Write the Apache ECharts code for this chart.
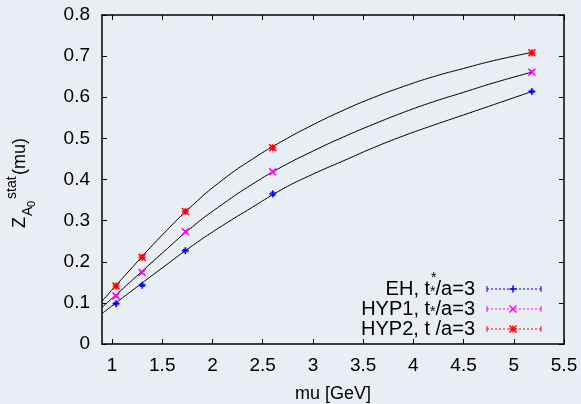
<!DOCTYPE html>
<html lang="en">
<head>
    <meta charset="UTF-8">
    <title>Z_A0 stat</title>
    <style>
        * { margin: 0; padding: 0; }
        body { background: #e9edf4; }
        #chart { width: 581px; height: 404px; }
    </style>
</head>
<body>
    <div id="chart"></div>
    <script src="https://cdn.jsdelivr.net/npm/echarts@6.0.0/dist/echarts.min.js"></script>
    <script type="text/javascript">
        // data
        var xTicks = [1, 1.5, 2, 2.5, 3, 3.5, 4, 4.5, 5, 5.5];
        var ptX = [1.04, 1.30, 1.73, 2.60, 5.18];
        var ehY = [0.098, 0.143, 0.227, 0.365, 0.614];
        var hyp1Y = [0.117, 0.174, 0.273, 0.419, 0.661];
        var hyp2Y = [0.141, 0.211, 0.322, 0.477, 0.708];
        var ehErr = [0.003, 0.003, 0.003, 0.004, 0.003];
        var hyp1Err = [0.003, 0.003, 0.003, 0.003, 0.003];
        var hyp2Err = [0.004, 0.004, 0.004, 0.004, 0.004];

        // fit curves (black)
        var fitX = [0.9, 1.2, 1.5, 1.8, 2.1, 2.4, 2.7, 3.0, 3.3, 3.6, 3.9, 4.2, 4.5, 4.8, 5.18];
        var fitEH = [0.074, 0.130, 0.185, 0.239, 0.288, 0.333, 0.377, 0.413, 0.445, 0.477, 0.506, 0.532, 0.557, 0.582, 0.614];
        var fitHYP1 = [0.089, 0.155, 0.221, 0.285, 0.340, 0.389, 0.432, 0.469, 0.503, 0.534, 0.563, 0.589, 0.612, 0.635, 0.661];
        var fitHYP2 = [0.104, 0.186, 0.265, 0.337, 0.399, 0.450, 0.494, 0.533, 0.568, 0.599, 0.626, 0.650, 0.670, 0.689, 0.709];

        var FONT = 'Liberation Sans, Arial, sans-serif';

        function pairs(xs, ys, es) {
            return xs.map(function (x, i) { return es ? [x, ys[i], es[i]] : [x, ys[i]]; });
        }

        // marker shapes like gnuplot pointtypes: 1 = plus, 2 = cross, 3 = star
        function markerShapes(kind, cx, cy, r, color) {
            var segs = [];
            if (kind === 'plus' || kind === 'star') {
                segs.push([cx - r, cy, cx + r, cy], [cx, cy - r, cx, cy + r]);
            }
            if (kind === 'cross' || kind === 'star') {
                segs.push([cx - r, cy - r, cx + r, cy + r], [cx - r, cy + r, cx + r, cy - r]);
            }
            return segs.map(function (s) {
                return {
                    type: 'line',
                    shape: { x1: s[0], y1: s[1], x2: s[2], y2: s[3] },
                    style: { stroke: color, lineWidth: 1.5 }
                };
            });
        }

        function pointSeries(name, data, kind, color) {
            return {
                name: name,
                type: 'custom',
                data: data,
                z: 5,
                renderItem: function (params, api) {
                    var x = api.value(0), y = api.value(1), e = api.value(2);
                    var p = api.coord([x, y]);
                    var lo = api.coord([x, y - e]);
                    var hi = api.coord([x, y + e]);
                    var kids = markerShapes(kind, p[0], p[1], 3.5, color);
                    var bar = [
                        [p[0], lo[1], p[0], hi[1]],
                        [p[0] - 2.5, lo[1], p[0] + 2.5, lo[1]],
                        [p[0] - 2.5, hi[1], p[0] + 2.5, hi[1]]
                    ];
                    bar.forEach(function (s) {
                        kids.push({
                            type: 'line',
                            shape: { x1: s[0], y1: s[1], x2: s[2], y2: s[3] },
                            style: { stroke: color, lineWidth: 1 }
                        });
                    });
                    return { type: 'group', children: kids };
                }
            };
        }

        function fitSeries(data) {
            return {
                type: 'line',
                data: data,
                showSymbol: false,
                smooth: 0.5,
                lineStyle: { color: '#000', width: 1 },
                silent: true,
                z: 3
            };
        }

        // legend rows, drawn like gnuplot's key with error bar samples
        function keyRow(y, rich, kind, color) {
            var kids = [
                {
                    type: 'text',
                    x: 475, y: y,
                    style: {
                        text: rich,
                        align: 'right', verticalAlign: 'middle',
                        font: '20px ' + FONT, fill: '#000',
                        rich: {
                            s: { fontSize: 14, fontFamily: FONT, verticalAlign: 'bottom', lineHeight: 10, fill: '#000' }
                        }
                    }
                },
                { type: 'line', shape: { x1: 487, y1: y, x2: 541, y2: y }, style: { stroke: color, lineWidth: 1, lineDash: [2, 2] } },
                { type: 'line', shape: { x1: 487, y1: y - 3, x2: 487, y2: y + 3 }, style: { stroke: color, lineWidth: 1 } },
                { type: 'line', shape: { x1: 541, y1: y - 3, x2: 541, y2: y + 3 }, style: { stroke: color, lineWidth: 1 } }
            ];
            return kids.concat(markerShapes(kind, 513, y, 3.5, color));
        }

        var chart = echarts.init(document.getElementById('chart'));

        var axisCommon = {
            axisLine: { show: true, onZero: false, lineStyle: { color: '#000', width: 1.5 } },
            axisTick: { show: true, inside: true, length: 5, lineStyle: { color: '#000', width: 1 } },
            splitLine: { show: false }
        };

        var option = {
            backgroundColor: '#e9edf4',
            animation: false,
            grid: { left: 102, right: 17, top: 15, bottom: 60, outerBoundsMode: 'none' },
            xAxis: [
                Object.assign({}, axisCommon, {
                    type: 'value', min: 0.9, max: 5.5, position: 'bottom',
                    axisTick: Object.assign({}, axisCommon.axisTick, { customValues: xTicks }),
                    axisLabel: {
                        customValues: xTicks, margin: 12, color: '#000', fontSize: 19, fontFamily: FONT,
                        formatter: function (v) { return String(v); }
                    },
                    name: 'mu [GeV]', nameLocation: 'middle', nameGap: 41,
                    nameTextStyle: { color: '#000', fontSize: 18, fontFamily: FONT }
                }),
                Object.assign({}, axisCommon, {
                    type: 'value', min: 0.9, max: 5.5, position: 'top',
                    axisTick: Object.assign({}, axisCommon.axisTick, { customValues: xTicks }),
                    axisLabel: { show: false }
                })
            ],
            yAxis: [
                Object.assign({}, axisCommon, {
                    type: 'value', min: 0, max: 0.8, interval: 0.1, position: 'left',
                    axisLabel: {
                        margin: 12, color: '#000', fontSize: 19, fontFamily: FONT,
                        formatter: function (v) { return v === 0 ? '0' : v.toFixed(1); }
                    }
                }),
                Object.assign({}, axisCommon, {
                    type: 'value', min: 0, max: 0.8, interval: 0.1, position: 'right',
                    axisLabel: { show: false }
                })
            ],
            series: [
                fitSeries(pairs(fitX, fitEH)),
                fitSeries(pairs(fitX, fitHYP1)),
                fitSeries(pairs(fitX, fitHYP2)),
                pointSeries('EH', pairs(ptX, ehY, ehErr), 'plus', '#0000ff'),
                pointSeries('HYP1', pairs(ptX, hyp1Y, hyp1Err), 'cross', '#ff00ff'),
                pointSeries('HYP2', pairs(ptX, hyp2Y, hyp2Err), 'star', '#ff0000')
            ],
            graphic: [
                // y axis title, rotated
                {
                    type: 'group', x: 20, y: 228, rotation: Math.PI / 2,
                    children: [
                        { type: 'text', x: 0, y: 0, style: { text: 'Z', font: '18px ' + FONT, fill: '#000', verticalAlign: 'middle' } },
                        { type: 'text', x: 12, y: 8, style: { text: 'A', font: '14px ' + FONT, fill: '#000', verticalAlign: 'middle' } },
                        { type: 'text', x: 21, y: 12, style: { text: '0', font: '11px ' + FONT, fill: '#000', verticalAlign: 'middle' } },
                        { type: 'text', x: 29, y: -8, style: { text: 'stat', font: '14px ' + FONT, fill: '#000', verticalAlign: 'middle' } },
                        { type: 'text', x: 53, y: 0, style: { text: '(mu)', font: '18px ' + FONT, fill: '#000', verticalAlign: 'middle' } }
                    ]
                },
                { type: 'group', children: keyRow(289, 'EH, t{s|*}/a=3', 'plus', '#0000ff') },
                { type: 'text', x: 431, y: 271, style: { text: '*', font: '14px ' + FONT, fill: '#000' } },
                { type: 'group', children: keyRow(309, 'HYP1, t{s|*}/a=3', 'cross', '#ff00ff') },
                { type: 'group', children: keyRow(329, 'HYP2, t /a=3', 'star', '#ff0000') }
            ]
        };

        chart.setOption(option);
    </script>
</body>
</html>
